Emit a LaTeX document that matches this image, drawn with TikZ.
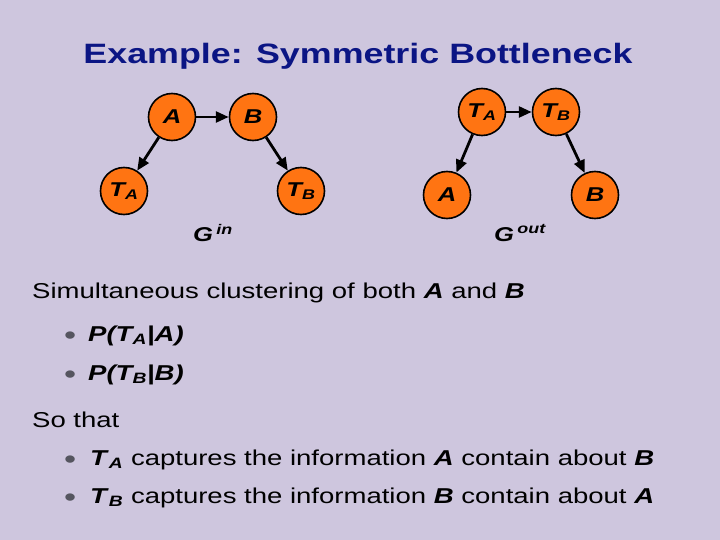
\documentclass[tikz,border=0pt]{standalone}
\usepackage{fontspec}
\setmainfont{Liberation Sans}[FakeStretch=1.28]
\usetikzlibrary{arrows.meta,positioning}
\definecolor{bgLav}{HTML}{CEC6DE}
\definecolor{ttlBlue}{HTML}{0B1584}
\definecolor{ndOrange}{HTML}{FF7412}
\definecolor{bulGray}{HTML}{55555F}
\newcommand{\vr}[1]{\textbf{\textit{#1}}}
\newcommand{\Tv}[1]{\vr{T}\textsubscript{\vr{#1}}}

\begin{document}
\begin{tikzpicture}[x=1pt,y=-1pt,
  every node/.style={font=\fontsize{21.5}{26}\selectfont},
  var/.style={circle,draw,line width=1.6pt,fill=ndOrange,minimum size=47pt,inner sep=0pt,
    font=\fontsize{20}{24}\selectfont\bfseries\itshape},
  gname/.style={font=\fontsize{20}{24}\selectfont\bfseries\itshape},
  line/.style={anchor=base west,inner sep=0pt},
  bul/.style={anchor=base west,inner sep=0pt,text=bulGray,font=\fontsize{27}{30}\selectfont},
  edge/.style={->,line width=2.8pt},
  >={Triangle[length=4.5mm,width=3.8mm]}]
  \fill[bgLav] (0,0) rectangle (720,540);
  \node[font=\fontsize{28}{32}\selectfont\bfseries,text=ttlBlue] (title) at (358,56) {Example: Symmetric Bottleneck};
  % G in
  \node[var] (inA) at (172,117) {A};
  \node[var] (inB) at (253,117) {B};
  \node[var] (inTA) at (124,191) {\Tv{A}};
  \node[var] (inTB) at (301,191) {\Tv{B}};
  \draw[edge] (inA) -- (inB);
  \draw[edge] (inA) -- (inTA);
  \draw[edge] (inB) -- (inTB);
  \node[gname] (gin) at (213,233) {G\,\textsuperscript{in}};
  % G out
  \node[var] (outTA) at (482,112) {\Tv{A}};
  \node[var] (outTB) at (556,112) {\Tv{B}};
  \node[var] (outA) at (447,195) {A};
  \node[var] (outB) at (595,195) {B};
  \draw[edge] (outTA) -- (outTB);
  \draw[edge] (outTA) -- (outA);
  \draw[edge] (outTB) -- (outB);
  \node[gname] (gout) at (520,233) {G\,\textsuperscript{out}};
  % text
  \node[line] (l1) at (32,298) {Simultaneous clustering of both \vr{A} and \vr{B}};
  \node[bul] (b1) at (64,344) {•};
  \node[line] (l2) at (88,341) {\vr{P(\Tv{A}|A)}};
  \node[bul] (b2) at (64,383) {•};
  \node[line] (l3) at (88,380) {\vr{P(\Tv{B}|B)}};
  \node[line] (l4) at (32,427) {So that};
  \node[bul] (b3) at (64,468) {•};
  \node[line] (l5) at (90,465) {\Tv{A} captures the information \vr{A} contain about \vr{B}};
  \node[bul] (b4) at (64,506) {•};
  \node[line] (l6) at (90,503) {\Tv{B} captures the information \vr{B} contain about \vr{A}};
\end{tikzpicture}
\end{document}
